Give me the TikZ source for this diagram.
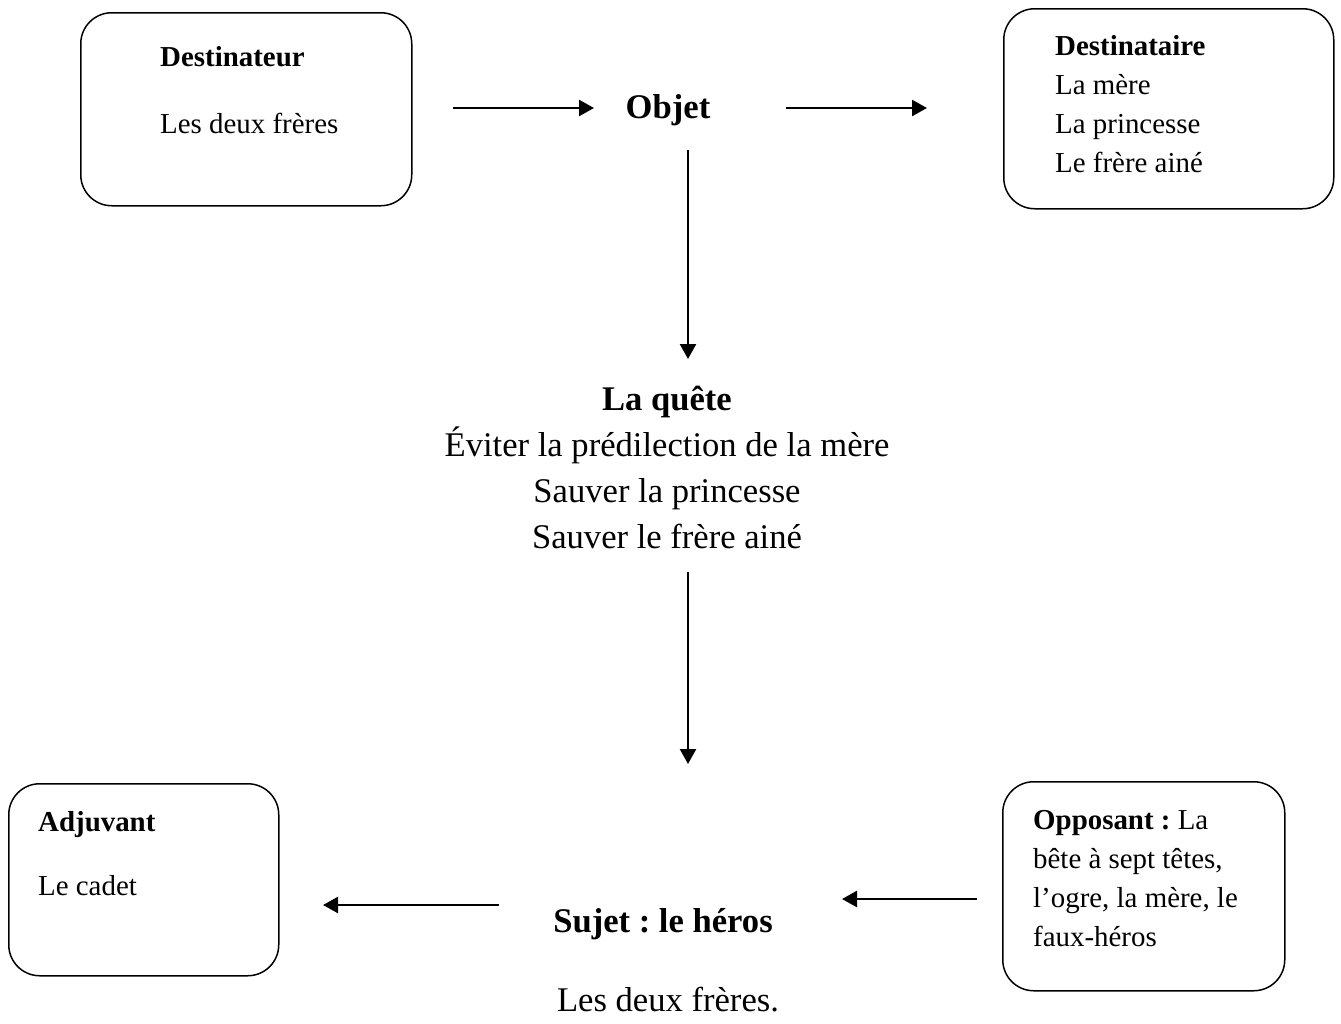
\documentclass[tikz,border=0pt]{standalone}
\usepackage{fontspec}
\setmainfont{Liberation Serif}
\usetikzlibrary{arrows.meta}
\frenchspacing
\begin{document}
\begin{tikzpicture}[x=1pt,y=-1pt,
  box/.style={draw,line width=1.5pt,rounded corners=31pt,anchor=north west,inner sep=0pt},
  small/.style={font=\fontsize{28.9}{39}\selectfont\frenchspacing,inner sep=0pt},
  big/.style={font=\fontsize{34.6}{46}\selectfont\frenchspacing,inner sep=0pt},
  arr/.style={line width=2.4pt,-{Triangle[length=15pt,width=16pt]}}]
\useasboundingbox (0,0) rectangle (1341,1023);
% boxes
\node[box,minimum width=331pt,minimum height=193pt] (destinateurbox) at (80,12) {};
\node[box,minimum width=330pt,minimum height=200pt] (destinatairebox) at (1003,8) {};
\node[box,minimum width=270pt,minimum height=192pt] (adjuvantbox) at (8,783) {};
\node[box,minimum width=282pt,minimum height=209pt] (opposantbox) at (1002,781) {};
% texts
\node[small,anchor=base west] (destinateur) at (160,66) {\textbf{Destinateur}};
\node[small,anchor=base west] (destinateurtxt) at (160,133) {Les deux frères};
\node[small,anchor=base west] (destinataire) at (1055,55)
  {\begin{tabular}[t]{@{}l@{}}\textbf{Destinataire}\\La mère\\La princesse\\Le frère ainé\end{tabular}};
\node[small,anchor=base west] (adjuvant) at (38,831) {\textbf{Adjuvant}};
\node[small,anchor=base west] (adjuvanttxt) at (38,895) {Le cadet};
\node[small,anchor=base west] (opposant) at (1033,829)
  {\begin{tabular}[t]{@{}l@{}}\textbf{Opposant :} La\\bête à sept têtes,\\l’ogre, la mère, le\\faux-héros\end{tabular}};
\node[big,anchor=base] (objet) at (668,118) {\textbf{Objet}};
\node[big,anchor=base] (quete) at (667,410)
  {\begin{tabular}[t]{@{}c@{}}\textbf{La quête}\\Éviter la prédilection de la mère\\Sauver la princesse\\Sauver le frère ainé\end{tabular}};
\node[big,anchor=base] (sujet) at (663,932) {\textbf{Sujet : le héros}};
\node[big,anchor=base] (sujettxt) at (668,1011) {Les deux frères.};
% connector ends
\coordinate (a1s) at (453,108); \coordinate (a1e) at (594,108);
\coordinate (a2s) at (786,108); \coordinate (a2e) at (927,108);
\coordinate (v1s) at (688,150); \coordinate (v1e) at (688,359);
\coordinate (v2s) at (688,572); \coordinate (v2e) at (688,764);
\coordinate (h3s) at (499,905); \coordinate (h3e) at (323,905);
\coordinate (h4s) at (977,899); \coordinate (h4e) at (842,899);
\draw[arr] (a1s) -- (a1e);
\draw[arr] (a2s) -- (a2e);
\draw[arr] (v1s) -- (v1e);
\draw[arr] (v2s) -- (v2e);
\draw[arr] (h3s) -- (h3e);
\draw[arr] (h4s) -- (h4e);
\end{tikzpicture}
\end{document}
